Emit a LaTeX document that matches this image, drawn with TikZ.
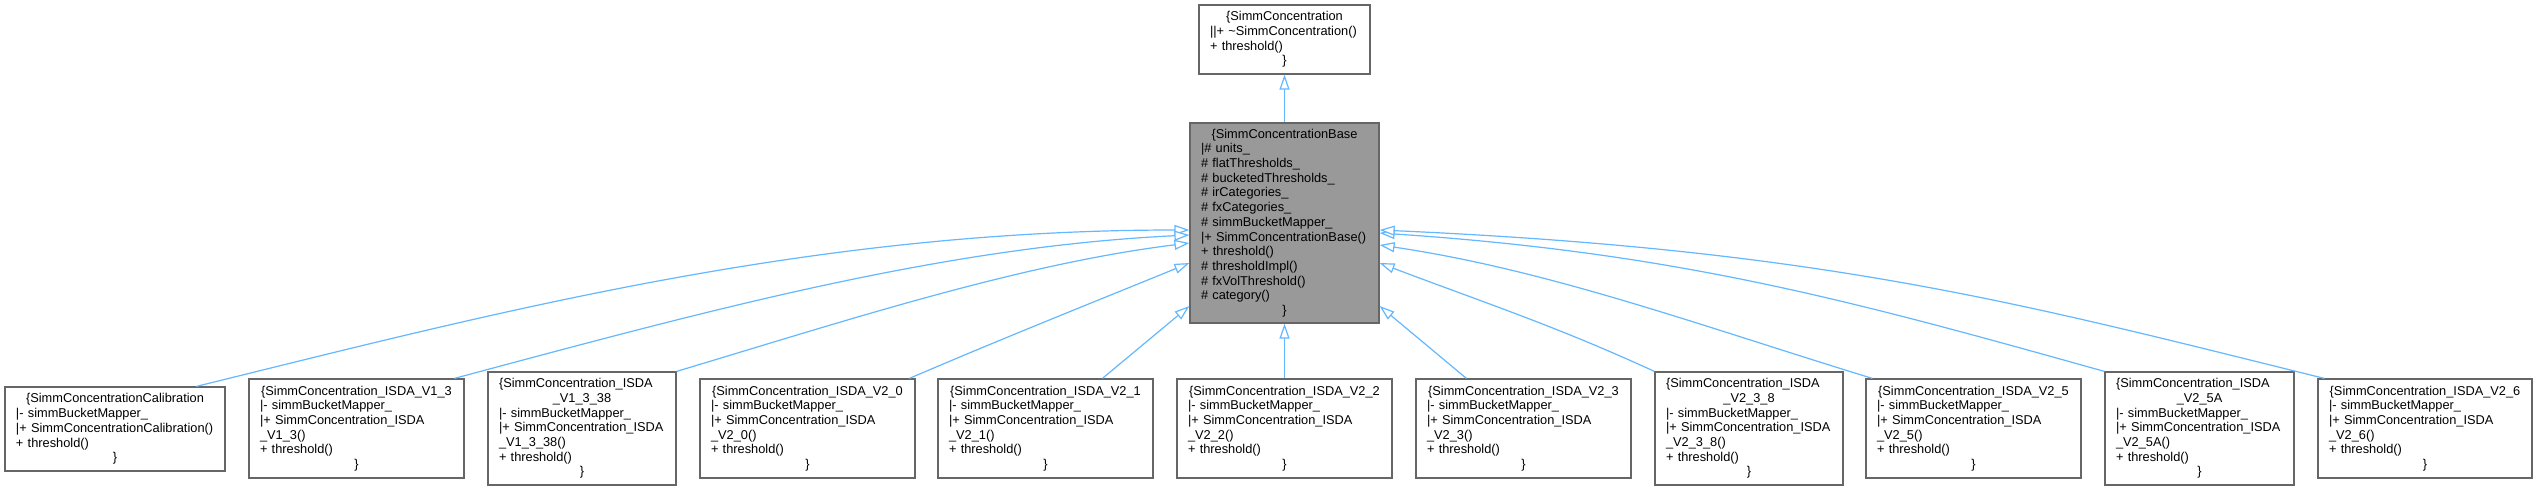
\documentclass[tikz,border=0pt]{standalone}
\usepackage{fontspec}
\setmainfont{Liberation Sans}
\usetikzlibrary{arrows.meta}
\newcommand\CL[1]{\hbox to\hsize{\hfil#1\hfil}}
\newcommand\LL[1]{\hbox to\hsize{#1\hfil}}
\definecolor{edgeblue}{HTML}{63B8FF}
\definecolor{boxborder}{HTML}{666666}
\definecolor{basefill}{HTML}{999999}
\begin{document}
\begin{tikzpicture}[x=1pt,y=-1pt,
  cls/.style={draw=boxborder, line width=1.2pt, fill=white, inner xsep=11pt, inner ysep=0pt,
    font=\fontsize{12.8}{14.7}\selectfont, anchor=center},
  inh/.style={draw=edgeblue, line width=1.2pt, -{Triangle[length=15pt,width=10pt,fill=white]}}]
\useasboundingbox[fill=white] (0,0) rectangle (2537,491);

\node[cls, text width=149pt, minimum height=69pt] (top) at (1284.5,39.5)
 {\vbox{\CL{\{SimmConcentration}\LL{||+ \textasciitilde SimmConcentration()}\LL{+ threshold()}\CL{\}}}};

\node[cls, fill=basefill, text width=167pt, minimum height=200pt] (base) at (1284.5,223)
 {\vbox{\CL{\{SimmConcentrationBase}\LL{|\# units\_}\LL{\# flatThresholds\_}\LL{\# bucketedThresholds\_}%
  \LL{\# irCategories\_}\LL{\# fxCategories\_}\LL{\# simmBucketMapper\_}\LL{|+ SimmConcentrationBase()}%
  \LL{+ threshold()}\LL{\# thresholdImpl()}\LL{\# fxVolThreshold()}\LL{\# category()}\CL{\}}}};

\node[cls, text width=198pt, minimum height=84pt] (c1) at (115,429)
 {\vbox{\CL{\{SimmConcentrationCalibration}\LL{|- simmBucketMapper\_}\LL{|+ SimmConcentrationCalibration()}\LL{+ threshold()}\CL{\}}}};

\node[cls, text width=193pt, minimum height=99pt] (c2) at (356.5,428.5)
 {\vbox{\CL{\{SimmConcentration\_ISDA\_V1\_3}\LL{|- simmBucketMapper\_}\LL{|+ SimmConcentration\_ISDA}\LL{\_V1\_3()}\LL{+ threshold()}\CL{\}}}};

\node[cls, text width=166pt, minimum height=113pt] (c3) at (582,428.5)
 {\vbox{\LL{\{SimmConcentration\_ISDA}\CL{\_V1\_3\_38}\LL{|- simmBucketMapper\_}\LL{|+ SimmConcentration\_ISDA}\LL{\_V1\_3\_38()}\LL{+ threshold()}\CL{\}}}};

\node[cls, text width=193pt, minimum height=99pt] (c4) at (807.5,428.5)
 {\vbox{\CL{\{SimmConcentration\_ISDA\_V2\_0}\LL{|- simmBucketMapper\_}\LL{|+ SimmConcentration\_ISDA}\LL{\_V2\_0()}\LL{+ threshold()}\CL{\}}}};

\node[cls, text width=193pt, minimum height=99pt] (c5) at (1045.5,428.5)
 {\vbox{\CL{\{SimmConcentration\_ISDA\_V2\_1}\LL{|- simmBucketMapper\_}\LL{|+ SimmConcentration\_ISDA}\LL{\_V2\_1()}\LL{+ threshold()}\CL{\}}}};

\node[cls, text width=193pt, minimum height=99pt] (c6) at (1284.5,428.5)
 {\vbox{\CL{\{SimmConcentration\_ISDA\_V2\_2}\LL{|- simmBucketMapper\_}\LL{|+ SimmConcentration\_ISDA}\LL{\_V2\_2()}\LL{+ threshold()}\CL{\}}}};

\node[cls, text width=193pt, minimum height=99pt] (c7) at (1523.5,428.5)
 {\vbox{\CL{\{SimmConcentration\_ISDA\_V2\_3}\LL{|- simmBucketMapper\_}\LL{|+ SimmConcentration\_ISDA}\LL{\_V2\_3()}\LL{+ threshold()}\CL{\}}}};

\node[cls, text width=166pt, minimum height=113pt] (c8) at (1749,428.5)
 {\vbox{\LL{\{SimmConcentration\_ISDA}\CL{\_V2\_3\_8}\LL{|- simmBucketMapper\_}\LL{|+ SimmConcentration\_ISDA}\LL{\_V2\_3\_8()}\LL{+ threshold()}\CL{\}}}};

\node[cls, text width=193pt, minimum height=99pt] (c9) at (1973.5,428.5)
 {\vbox{\CL{\{SimmConcentration\_ISDA\_V2\_5}\LL{|- simmBucketMapper\_}\LL{|+ SimmConcentration\_ISDA}\LL{\_V2\_5()}\LL{+ threshold()}\CL{\}}}};

\node[cls, text width=167pt, minimum height=113pt] (c10) at (2199.5,428.5)
 {\vbox{\LL{\{SimmConcentration\_ISDA}\CL{\_V2\_5A}\LL{|- simmBucketMapper\_}\LL{|+ SimmConcentration\_ISDA}\LL{\_V2\_5A()}\LL{+ threshold()}\CL{\}}}};

\node[cls, text width=192pt, minimum height=99pt] (c11) at (2425,428.5)
 {\vbox{\CL{\{SimmConcentration\_ISDA\_V2\_6}\LL{|- simmBucketMapper\_}\LL{|+ SimmConcentration\_ISDA}\LL{\_V2\_6()}\LL{+ threshold()}\CL{\}}}};

% connectors
\draw[inh] (base.north) -- (top.south);
\draw[inh] ([xshift=192pt]c1.north west) .. controls +(300,-74) and +(-380,0) .. ([yshift=-7pt]base.west);
\draw[inh] ([xshift=206pt]c2.north west) .. controls +(250,-67) and +(-250,12) .. ([yshift=-12pt]base.west);
\draw[inh] (c3.north east) .. controls +(170,-51) and +(-170,21) .. ([yshift=-20pt]base.west);
\draw[inh] ([xshift=210pt]c4.north west) .. controls +(93,-40) and +(-93,38) .. ([yshift=-40pt]base.west);
\draw[inh] ([xshift=165pt]c5.north west) -- ([yshift=-83pt]base.west);
\draw[inh] (c6.north) -- (base.south);
\draw[inh] ([xshift=51pt]c7.north west) -- ([yshift=-83pt]base.east);
\draw[inh] (c8.north west) .. controls +(-100,-46) and +(100,38) .. ([yshift=-40pt]base.east);
\draw[inh] ([xshift=7pt]c9.north west) .. controls +(-170,-52) and +(170,25) .. ([yshift=-22pt]base.east);
\draw[inh] (c10.north west) .. controls +(-250,-70) and +(300,20) .. ([yshift=-10pt]base.east);
\draw[inh] ([xshift=7pt]c11.north west) .. controls +(-300,-74) and +(450,20) .. ([yshift=-7pt]base.east);
\end{tikzpicture}
\end{document}
